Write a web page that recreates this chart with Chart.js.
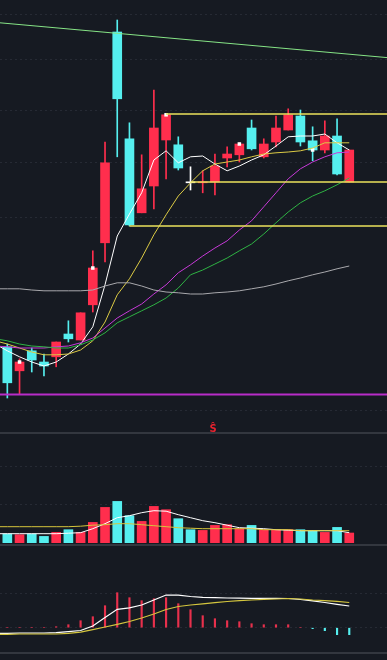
<!DOCTYPE html>
<html>
<head>
<meta charset="utf-8">
<script src="https://cdn.jsdelivr.net/npm/chart.js@4.4.0/dist/chart.umd.min.js"></script>
<style>
  html, body { margin: 0; padding: 0; background: #161a22; }
  body { width: 387px; height: 660px; position: relative; overflow: hidden; }
  canvas { position: absolute; left: 0; }
  .sep { position: absolute; left: 0; width: 387px; height: 2px; background: #33373f; }
</style>
</head>
<body>
<canvas id="price" width="387" height="432" style="top:0"></canvas>
<div class="sep" style="top:432px"></div>
<canvas id="volume" width="387" height="110" style="top:434px"></canvas>
<div class="sep" style="top:544px"></div>
<canvas id="macd" width="387" height="106" style="top:546px"></canvas>
<div class="sep" style="top:652px"></div>
<script>
// candles
const days = [0, 1, 2, 3, 4, 5, 6, 7, 8, 9, 10, 11, 12, 13, 14, 15, 16, 17, 18, 19, 20, 21, 22, 23, 24, 25, 26, 27, 28];
const open  = [11.33, 10.73, 11.23, 10.95, 11.08, 11.65, 11.50, 12.38, 13.93, 19.20, 16.53, 14.68, 15.35, 16.50, 16.38, 15.43, 15.43, 15.45, 16.05, 16.13, 16.80, 16.08, 16.45, 16.75, 17.10, 16.48, 16.25, 16.60, 15.45];
const high  = [11.40, 11.03, 11.30, 11.15, 11.45, 11.98, 12.18, 13.73, 16.45, 19.50, 16.93, 16.13, 17.75, 17.15, 16.58, 15.83, 15.73, 16.15, 16.33, 16.43, 17.00, 16.53, 17.10, 17.28, 17.25, 16.83, 16.98, 17.03, 16.25];
const low   = [10.05, 10.14, 10.70, 10.60, 10.83, 11.45, 11.50, 12.20, 13.45, 16.08, 14.35, 14.68, 14.78, 15.53, 15.75, 15.25, 15.18, 15.13, 15.83, 15.95, 16.25, 16.05, 16.33, 16.75, 16.35, 15.98, 16.18, 15.63, 15.45];
const close = [10.43, 10.95, 11.00, 10.85, 11.45, 11.53, 12.18, 13.30, 15.93, 17.53, 14.38, 15.28, 16.80, 17.13, 15.80, 15.43, 15.45, 15.85, 16.15, 16.40, 16.28, 16.40, 16.80, 17.13, 16.45, 16.25, 16.60, 15.65, 16.25];
const markDays = [1, 7, 13, 19, 25];

// moving averages, first value is the day before the window
const maDays = [-1, 0, 1, 2, 3, 4, 5, 6, 7, 8, 9, 10, 11, 12, 13, 14, 15, 16, 17, 18, 19, 20, 21, 22, 23, 24, 25, 26, 27, 28];
const ma5  = [11.40, 11.23, 11.08, 10.95, 10.85, 10.95, 11.15, 11.40, 11.83, 12.88, 14.10, 14.65, 15.18, 16.00, 16.23, 15.93, 16.08, 16.10, 15.90, 15.73, 15.85, 16.00, 16.13, 16.35, 16.58, 16.60, 16.60, 16.65, 16.43, 16.25];
const ma10 = [11.48, 11.40, 11.30, 11.20, 11.13, 11.13, 11.15, 11.25, 11.48, 11.95, 12.63, 13.03, 13.55, 14.13, 14.63, 15.10, 15.43, 15.73, 15.90, 15.95, 16.00, 16.08, 16.15, 16.18, 16.20, 16.23, 16.30, 16.43, 16.43, 16.43];
const ma20 = [11.35, 11.33, 11.30, 11.30, 11.30, 11.33, 11.35, 11.43, 11.55, 11.80, 12.05, 12.23, 12.40, 12.65, 12.88, 13.18, 13.38, 13.60, 13.80, 13.98, 14.25, 14.48, 14.83, 15.18, 15.53, 15.78, 15.95, 16.08, 16.18, 16.20];
const ma30 = [11.53, 11.48, 11.40, 11.35, 11.33, 11.30, 11.30, 11.38, 11.50, 11.68, 11.93, 12.08, 12.23, 12.38, 12.55, 12.80, 13.13, 13.25, 13.40, 13.55, 13.73, 13.90, 14.15, 14.43, 14.70, 14.93, 15.10, 15.23, 15.38, 15.55];
const ma60 = [12.78, 12.78, 12.78, 12.75, 12.73, 12.73, 12.73, 12.73, 12.75, 12.85, 12.93, 12.93, 12.85, 12.75, 12.70, 12.68, 12.65, 12.65, 12.68, 12.70, 12.73, 12.78, 12.83, 12.90, 12.98, 13.05, 13.13, 13.20, 13.28, 13.35];

// drawn lines
const trendDays = [-0.6, 31.09];
const trendPrices = [19.43, 18.56];
const levelPrices = [17.15, 15.45, 14.35];
const levelStart = [13, 15, 10];
const supportPrice = 10.14;

// volume
const volume = [9000, 8300, 9000, 6600, 10600, 13300, 10600, 20600, 35600, 41600, 27300, 21600, 36600, 33300, 24300, 13300, 12600, 17600, 18300, 14300, 17600, 13300, 13300, 13300, 13300, 12300, 10600, 15600, 10000];
const volMa5  = [9300, 9300, 9300, 9300, 9300, 9300, 9800, 10300, 14300, 19300, 25300, 27300, 30300, 32300, 31800, 28300, 25300, 22300, 20300, 17800, 15300, 14800, 14300, 13300, 12800, 12300, 12300, 12300, 12300, 10300];
const volMa10 = [16300, 16300, 16300, 16300, 16300, 16300, 16300, 16800, 17800, 18300, 19300, 19300, 18300, 17300, 16300, 15300, 14800, 14300, 14300, 14300, 14300, 14300, 13300, 13300, 13300, 12300, 12300, 12300, 12300, 12300];

// MACD
const hist = [0, 0, 0, 0, 0.01, 0.03, 0.07, 0.11, 0.22, 0.35, 0.30, 0.27, 0.29, 0.30, 0.24, 0.18, 0.12, 0.09, 0.07, 0.06, 0.04, 0.03, 0.03, 0.03, 0, -0.01, -0.03, -0.07, -0.07];
const dif = [-0.056, -0.056, -0.053, -0.053, -0.053, -0.050, -0.040, -0.028, 0.017, 0.102, 0.184, 0.199, 0.227, 0.277, 0.327, 0.325, 0.312, 0.304, 0.300, 0.297, 0.295, 0.294, 0.294, 0.294, 0.292, 0.282, 0.269, 0.252, 0.234, 0.217];
const dea = [-0.066, -0.066, -0.063, -0.063, -0.063, -0.063, -0.056, -0.045, -0.020, 0.007, 0.034, 0.062, 0.097, 0.137, 0.182, 0.212, 0.227, 0.239, 0.250, 0.262, 0.270, 0.277, 0.283, 0.287, 0.292, 0.287, 0.277, 0.270, 0.264, 0.252];

const signText = 'Ŝ';
const signDay = 16.85;
const signPrice = 9.2;

const X_MIN = -0.6, X_MAX = 31.09;
const RED = '#ff2e4d', CYAN = '#55efef', WHITE = '#ffffff';

function candleColor(i) {
  if (close[i] > open[i]) return RED;
  if (close[i] < open[i]) return CYAN;
  return WHITE;
}

function pts(xs, ys) {
  return ys.map((y, k) => ({ x: xs[k], y }));
}

function line(data, color, width) {
  return {
    type: 'line', data, borderColor: color, borderWidth: width || 1,
    pointRadius: 0, tension: 0, fill: false, order: 0
  };
}

function xAxis() {
  return { type: 'linear', min: X_MIN, max: X_MAX, display: false, offset: false };
}

function yAxis(min, max, gridValues) {
  return {
    min, max,
    afterFit(s) { s.width = 0; },
    afterBuildTicks(s) { s.ticks = gridValues.map(v => ({ value: v })); },
    ticks: { display: false },
    border: { display: false, dash: [2, 3] },
    grid: { color: '#262a34', drawTicks: false, lineWidth: 1 }
  };
}

const base = {
  responsive: false,
  animation: false,
  events: [],
  devicePixelRatio: 1,
  layout: { autoPadding: false, padding: 0 },
  plugins: { legend: { display: false }, tooltip: { enabled: false } }
};

const signPlugin = {
  id: 'sign',
  afterDatasetsDraw(chart) {
    const { ctx, scales: { x, y } } = chart;
    ctx.save();
    ctx.fillStyle = '#e8222e';
    ctx.font = 'bold 10px "DejaVu Sans"';
    ctx.textAlign = 'center';
    ctx.textBaseline = 'alphabetic';
    ctx.fillText(signText, x.getPixelForValue(signDay), y.getPixelForValue(signPrice));
    ctx.restore();
  }
};

const levelSets = levelPrices.map((p, k) =>
  line([{ x: levelStart[k], y: p }, { x: X_MAX, y: p }], '#ece35c', 1.5));

new Chart(document.getElementById('price'), {
  type: 'bar',
  data: {
    datasets: [
      line(pts(trendDays, trendPrices), '#86e486'),
      line([{ x: X_MIN, y: supportPrice }, { x: X_MAX, y: supportPrice }], '#b82cc8', 2),
      ...levelSets,
      line(pts(maDays, ma60), '#a9a9ad'),
      line(pts(maDays, ma30), '#2fb344'),
      line(pts(maDays, ma20), '#c73ad8'),
      line(pts(maDays, ma10), '#dccb45'),
      line(pts(maDays, ma5), '#ffffff'),
      {
        type: 'line', showLine: false, order: 1,
        data: markDays.map(i => ({ x: i, y: close[i] })),
        pointStyle: 'rect', pointRadius: 2.5, pointBorderWidth: 0,
        pointBackgroundColor: WHITE
      },
      {
        type: 'bar', grouped: false, order: 2, barThickness: 9, minBarLength: 1,
        data: days.map(i => ({ x: i, y: [open[i], close[i]] })),
        backgroundColor: days.map(candleColor)
      },
      {
        type: 'bar', grouped: false, order: 3, barThickness: 1,
        data: days.map(i => ({ x: i, y: [low[i], high[i]] })),
        backgroundColor: days.map(candleColor)
      }
    ]
  },
  options: {
    ...base,
    scales: {
      x: xAxis(),
      y: yAxis(9.2, 20, [19.63, 18.5, 17.25, 15.93, 14.55, 9.73])
    }
  },
  plugins: [signPlugin]
});

new Chart(document.getElementById('volume'), {
  type: 'bar',
  data: {
    datasets: [
      line(pts(maDays, volMa10), '#d6c63c'),
      line(pts(maDays, volMa5), '#ffffff'),
      {
        type: 'bar', grouped: false, order: 2, barThickness: 9,
        data: days.map(i => ({ x: i, y: volume[i] })),
        backgroundColor: days.map(i => close[i] > open[i] ? RED : CYAN)
      }
    ]
  },
  options: {
    ...base,
    layout: { autoPadding: false, padding: { bottom: 1 } },
    scales: {
      x: xAxis(),
      y: yAxis(0, 109000, [38300, 76300])
    }
  }
});

new Chart(document.getElementById('macd'), {
  type: 'bar',
  data: {
    datasets: [
      line(pts(maDays, dea), '#d4c63e', 1.2),
      line(pts(maDays, dif), '#ffffff', 1.2),
      {
        type: 'bar', grouped: false, order: 2, barThickness: 1.5,
        data: days.map(i => ({ x: i, y: hist[i] })),
        backgroundColor: days.map(i => hist[i] >= 0 ? '#e8304c' : CYAN)
      }
    ]
  },
  options: {
    ...base,
    scales: {
      x: xAxis(),
      y: yAxis(-0.243, 0.817, [0.342, 0])
    }
  }
});
</script>
</body>
</html>
